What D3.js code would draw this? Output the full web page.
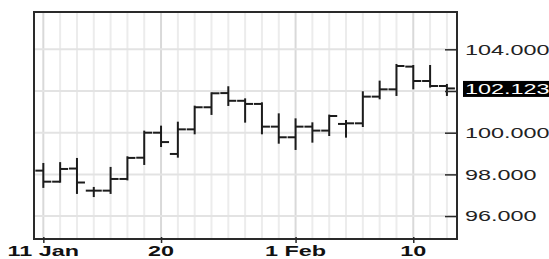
<!DOCTYPE html>
<html>
<head>
<meta charset="utf-8">
<script src="https://cdn.jsdelivr.net/npm/d3@7/dist/d3.min.js"></script>
<style>
  html, body { margin: 0; padding: 0; background: #fff; }
  svg { display: block; }
</style>
</head>
<body>
<svg id="chart" width="549" height="259"></svg>
<script>
// ---- data (trading days) ----
const dates = ["2010-01-11","2010-01-12","2010-01-13","2010-01-14","2010-01-15",
               "2010-01-18","2010-01-19","2010-01-20","2010-01-21","2010-01-22",
               "2010-01-25","2010-01-26","2010-01-27","2010-01-28","2010-01-29",
               "2010-02-01","2010-02-02","2010-02-03","2010-02-04","2010-02-05",
               "2010-02-08","2010-02-09","2010-02-10","2010-02-11","2010-02-12"];
const open  = [98.18, 97.65, 98.28, 97.22, 97.22, 97.78, 98.80, 100.00, 98.98, 100.16,
               101.22, 101.90, 101.53, 101.38, 100.29, 99.78, 100.29, 100.10, 100.42, 100.45,
               101.73, 102.08, 103.17, 102.48, 102.24];
const high  = [98.50, 98.54, 98.74, 97.35, 98.31, 98.82, 100.05, 100.29, 100.48, 101.25,
               101.89, 102.18, 101.60, 101.41, 100.88, 100.64, 100.45, 100.82, 100.56, 101.94,
               102.45, 103.25, 103.20, 103.20, 102.29];
const low   = [97.40, 97.65, 97.11, 96.96, 97.11, 97.76, 98.50, 99.36, 98.85, 99.97,
               100.90, 101.33, 100.53, 99.97, 99.52, 99.22, 99.57, 99.89, 99.81, 100.32,
               101.65, 101.81, 102.13, 102.21, 101.81];
const close = [97.65, 98.26, 97.61, 97.22, 97.78, 98.79, 100.00, 99.55, 100.16, 101.22,
               101.89, 101.53, 101.38, 100.29, 99.78, 100.29, 100.10, 100.80, 100.45, 101.73,
               102.08, 103.20, 102.48, 102.24, 102.123];
const xTickDates  = ["2010-01-11","2010-01-20","2010-02-01","2010-02-10"];
const xTickLabels = ["11 Jan","20","1 Feb","10"];
const yTicks = [96, 98, 100, 102, 104];
const lastPrice = close[close.length - 1];

// ---- layout ----
const svg = d3.select("#chart");
const L = 34, T = 12, R = 457, B = 239;
const STRETCH = 1.56;

const x = d3.scaleLinear().domain([-0.555, dates.length - 1 + 0.6]).range([L, R]);
const y = d3.scaleLinear().domain([94.9, 105.79]).range([B, T]);
const idx = d3.range(dates.length);
const majorIdx = xTickDates.map(d => dates.indexOf(d));

// gridlines
const grid = svg.append("g");
grid.selectAll("line.v").data(idx).join("line")
  .attr("x1", i => x(i)).attr("x2", i => x(i))
  .attr("y1", T).attr("y2", B)
  .attr("stroke", i => majorIdx.includes(i) ? "#d9d9d9" : "#ececec")
  .attr("stroke-width", 2);
grid.selectAll("line.h").data(yTicks).join("line")
  .attr("x1", L).attr("x2", R)
  .attr("y1", d => y(d)).attr("y2", d => y(d))
  .attr("stroke", "#e3e3e3").attr("stroke-width", 2);

// OHLC bars
const tl = 8;
const bars = svg.append("g").attr("stroke", "#1c1c1c").attr("stroke-width", 2).attr("fill", "none");
const bar = bars.selectAll("g").data(idx).join("g");
bar.append("line").attr("x1", i => x(i)).attr("x2", i => x(i))
  .attr("y1", i => y(high[i]) - 1).attr("y2", i => y(low[i]) + 1);
bar.append("line").attr("x1", i => x(i) - tl).attr("x2", i => x(i))
  .attr("y1", i => y(open[i])).attr("y2", i => y(open[i]));
bar.append("line").attr("x1", i => x(i)).attr("x2", i => x(i) + tl)
  .attr("y1", i => y(close[i])).attr("y2", i => y(close[i]));

// frame
svg.append("rect").attr("x", L).attr("y", T).attr("width", R - L).attr("height", B - T)
  .attr("fill", "none").attr("stroke", "#2a2a2a").attr("stroke-width", 2);

// x axis ticks
const xAxis = svg.append("g").attr("transform", `translate(0,${B})`)
  .call(d3.axisBottom(x).tickValues(majorIdx).tickSize(4).tickFormat(""));
xAxis.select(".domain").remove();
xAxis.selectAll(".tick line").attr("stroke", "#2a2a2a").attr("stroke-width", 1.5).attr("y1", -2);

// x labels
svg.append("g").selectAll("text").data(majorIdx).join("text")
  .attr("transform", (d) => `translate(${x(d)},255.5) scale(${STRETCH},1)`)
  .attr("text-anchor", "middle")
  .attr("font-family", "Liberation Sans, Arial, sans-serif")
  .attr("font-weight", "bold").attr("font-size", 15).attr("fill", "#111")
  .text((d, k) => xTickLabels[k]);

// y axis ticks (inward)
const yAxis = svg.append("g").attr("transform", `translate(${R},0)`)
  .call(d3.axisRight(y).tickValues(yTicks).tickSize(-12).tickFormat(""));
yAxis.select(".domain").remove();
yAxis.selectAll(".tick line").attr("stroke", "#2a2a2a").attr("stroke-width", 1.5);

// y labels
svg.append("g").selectAll("text").data(yTicks.filter(v => v !== 102)).join("text")
  .attr("transform", d => `translate(465,${y(d) + 5.4}) scale(${STRETCH},1)`)
  .attr("font-family", "Liberation Sans, Arial, sans-serif")
  .attr("font-size", 15).attr("fill", "#222")
  .text(d => d3.format(".3f")(d));

// last price label
const ly = y(lastPrice);
svg.append("rect").attr("x", 463).attr("y", ly - 7.5).attr("width", 90).attr("height", 16).attr("fill", "#000");
svg.append("text")
  .attr("transform", `translate(465,${ly + 5.4}) scale(${STRETCH},1)`)
  .attr("font-family", "Liberation Sans, Arial, sans-serif")
  .attr("font-size", 15).attr("fill", "#fff")
  .text(d3.format(".3f")(lastPrice));
</script>
</body>
</html>
